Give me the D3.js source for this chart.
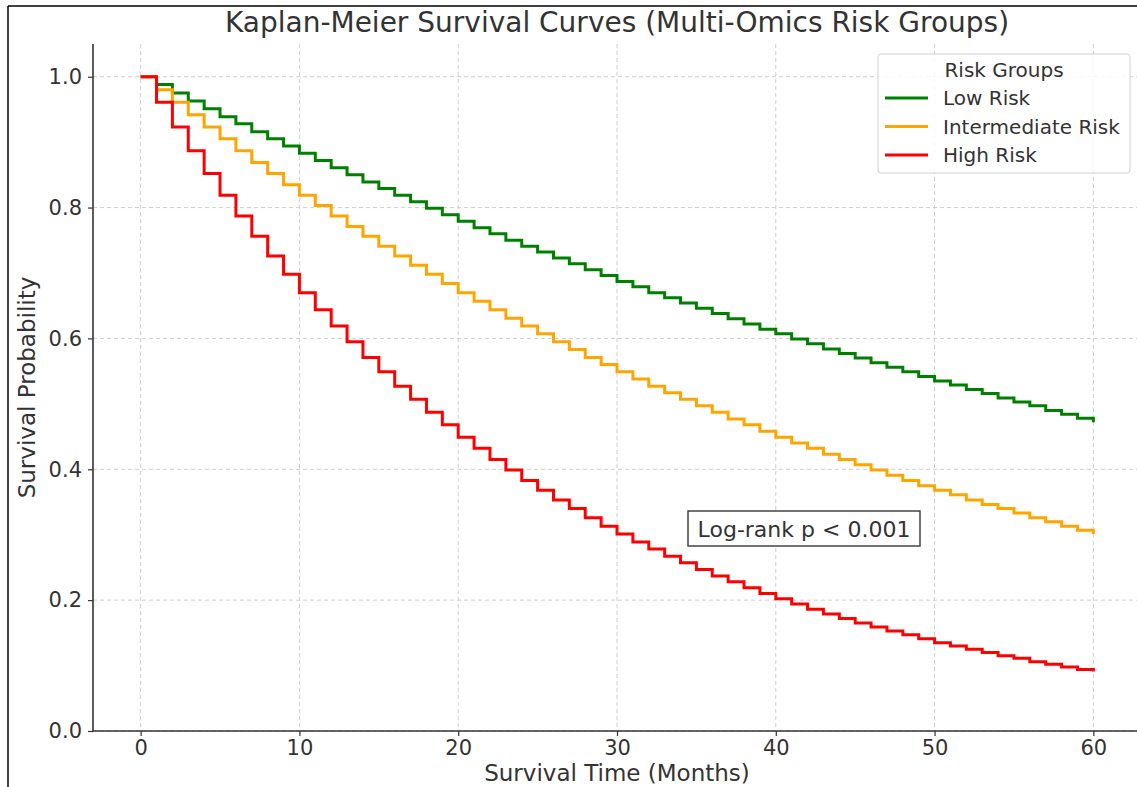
<!DOCTYPE html>
<html>
<head>
<meta charset="utf-8">
<script src="https://cdn.jsdelivr.net/npm/d3@7"></script>
<style>
  body { margin: 0; background: #fff; }
  svg { display: block; font-family: "DejaVu Sans", sans-serif; }
</style>
</head>
<body>
<svg id="chart" width="1137" height="787"></svg>
<script>
// months 0..60
var months = d3.range(0, 61);

var groups = ["Low Risk", "Intermediate Risk", "High Risk"];
var groupColors = ["green", "orange", "red"];

var lowRisk = [1.000, 0.988, 0.975, 0.963, 0.951, 0.939, 0.928, 0.916, 0.905, 0.894,
  0.883, 0.872, 0.861, 0.850, 0.839, 0.829, 0.819, 0.809, 0.799, 0.789,
  0.779, 0.769, 0.760, 0.750, 0.741, 0.732, 0.723, 0.714, 0.705, 0.696,
  0.687, 0.679, 0.670, 0.662, 0.654, 0.646, 0.638, 0.630, 0.622, 0.614,
  0.607, 0.599, 0.592, 0.584, 0.577, 0.570, 0.563, 0.556, 0.549, 0.542,
  0.535, 0.529, 0.522, 0.516, 0.509, 0.503, 0.497, 0.490, 0.484, 0.478,
  0.472];

var intermediateRisk = [1.000, 0.980, 0.961, 0.942, 0.923, 0.905, 0.887, 0.869, 0.852, 0.835,
  0.819, 0.803, 0.787, 0.771, 0.756, 0.741, 0.726, 0.712, 0.698, 0.684,
  0.670, 0.657, 0.644, 0.631, 0.619, 0.607, 0.595, 0.583, 0.571, 0.560,
  0.549, 0.538, 0.527, 0.517, 0.507, 0.497, 0.487, 0.477, 0.468, 0.458,
  0.449, 0.440, 0.432, 0.423, 0.415, 0.407, 0.399, 0.391, 0.383, 0.375,
  0.368, 0.361, 0.353, 0.346, 0.340, 0.333, 0.326, 0.320, 0.313, 0.307,
  0.301];

var highRisk = [1.000, 0.961, 0.923, 0.887, 0.852, 0.819, 0.787, 0.756, 0.726, 0.698,
  0.670, 0.644, 0.619, 0.595, 0.571, 0.549, 0.527, 0.507, 0.487, 0.468,
  0.449, 0.432, 0.415, 0.399, 0.383, 0.368, 0.353, 0.340, 0.326, 0.313,
  0.301, 0.289, 0.278, 0.267, 0.257, 0.247, 0.237, 0.228, 0.219, 0.210,
  0.202, 0.194, 0.186, 0.179, 0.172, 0.165, 0.159, 0.153, 0.147, 0.141,
  0.135, 0.130, 0.125, 0.120, 0.115, 0.111, 0.106, 0.102, 0.098, 0.094,
  0.091];

var xTicks = [0, 10, 20, 30, 40, 50, 60];
var yTicks = [0.0, 0.2, 0.4, 0.6, 0.8, 1.0];

var seriesValues = [lowRisk, intermediateRisk, highRisk];

var svg = d3.select("#chart");

// plot area (right side runs past the picture edge, as in the original)
var plotLeft = 93, plotRight = 1141, plotTop = 44, plotBottom = 731;

var x = d3.scaleLinear().domain([-3, 63]).range([plotLeft, plotRight]);
var y = d3.scaleLinear().domain([0, 1.05]).range([plotBottom, plotTop]);

var textColor = "#333";

// outer frame (left and top edges visible)
svg.append("line").attr("x1", 8).attr("x2", 8).attr("y1", 6).attr("y2", 787)
  .attr("stroke", "#000").attr("stroke-width", 1.5);
svg.append("line").attr("x1", 8).attr("x2", 1137).attr("y1", 6).attr("y2", 6)
  .attr("stroke", "#000").attr("stroke-width", 1.5);

// grid
svg.append("g").selectAll("line")
  .data(xTicks).enter().append("line")
  .attr("x1", function(d) { return x(d); })
  .attr("x2", function(d) { return x(d); })
  .attr("y1", plotTop).attr("y2", plotBottom)
  .attr("stroke", "#cfcfcf").attr("stroke-width", 1)
  .attr("stroke-dasharray", "4,3");

svg.append("g").selectAll("line")
  .data(yTicks).enter().append("line")
  .attr("x1", plotLeft).attr("x2", plotRight)
  .attr("y1", function(d) { return y(d); })
  .attr("y2", function(d) { return y(d); })
  .attr("stroke", "#cfcfcf").attr("stroke-width", 1)
  .attr("stroke-dasharray", "4,3");

// curves
var line = d3.line()
  .x(function(d) { return x(d[0]); })
  .y(function(d) { return y(d[1]); })
  .curve(d3.curveStepAfter);

for (var i = 0; i < groups.length; ++i) {
  var pts = months.map(function(m, j) { return [m, seriesValues[i][j]]; });
  svg.append("path")
    .datum(pts)
    .attr("d", line)
    .attr("fill", "none")
    .attr("stroke", groupColors[i])
    .attr("stroke-width", 3);
}

// axes
var xAxis = svg.append("g")
  .attr("transform", "translate(0," + plotBottom + ")")
  .call(d3.axisBottom(x).tickValues(xTicks).tickSize(5).tickPadding(4).tickSizeOuter(0));
var yAxis = svg.append("g")
  .attr("transform", "translate(" + plotLeft + ",0)")
  .call(d3.axisLeft(y).tickValues(yTicks).tickFormat(d3.format(".1f")).tickSize(5).tickPadding(6).tickSizeOuter(0));

[xAxis, yAxis].forEach(function(a) {
  a.select(".domain").attr("stroke", textColor).attr("stroke-width", 1.6);
  a.selectAll(".tick line").attr("stroke", textColor).attr("stroke-width", 1.2);
  a.selectAll(".tick text").attr("fill", textColor)
    .style("font-size", "21px").style("font-family", "DejaVu Sans");
});
yAxis.select(".domain").attr("d", "M0," + plotTop + "V" + plotBottom);
xAxis.select(".domain").attr("d", "M" + plotLeft + ",0H" + plotRight);

// labels
svg.append("text")
  .attr("x", (plotLeft + plotRight) / 2).attr("y", 32)
  .attr("text-anchor", "middle")
  .attr("fill", textColor)
  .style("font-size", "28px")
  .text("Kaplan-Meier Survival Curves (Multi-Omics Risk Groups)");

svg.append("text")
  .attr("x", (plotLeft + plotRight) / 2).attr("y", 781)
  .attr("text-anchor", "middle")
  .attr("fill", textColor)
  .style("font-size", "23px")
  .text("Survival Time (Months)");

svg.append("text")
  .attr("transform", "translate(35," + ((plotTop + plotBottom) / 2) + ") rotate(-90)")
  .attr("text-anchor", "middle")
  .attr("fill", textColor)
  .style("font-size", "23px")
  .text("Survival Probability");

// legend
var lg = svg.append("g").attr("transform", "translate(878,54)");
lg.append("rect")
  .attr("width", 252).attr("height", 119)
  .attr("rx", 3).attr("ry", 3)
  .attr("fill", "#fff").attr("fill-opacity", 0.85)
  .attr("stroke", "#d0d0d0").attr("stroke-width", 1);
lg.append("text")
  .attr("x", 126).attr("y", 23)
  .attr("text-anchor", "middle")
  .attr("fill", textColor)
  .style("font-size", "20px")
  .text("Risk Groups");

var entries = lg.selectAll(".entry")
  .data(groups).enter().append("g")
  .attr("class", "entry")
  .attr("transform", function(d, i) { return "translate(0," + (44 + i * 28.5) + ")"; });
entries.append("line")
  .attr("x1", 7).attr("x2", 50)
  .attr("stroke", function(d, i) { return groupColors[i]; })
  .attr("stroke-width", 3);
entries.append("text")
  .attr("x", 65).attr("dy", "0.35em")
  .attr("fill", textColor)
  .style("font-size", "20px")
  .text(function(d) { return d; });

// log-rank annotation
var ann = svg.append("g").attr("transform", "translate(688,511)");
ann.append("rect")
  .attr("width", 232).attr("height", 35)
  .attr("fill", "#fff")
  .attr("stroke", "#444").attr("stroke-width", 1.5);
ann.append("text")
  .attr("x", 116).attr("y", 18).attr("dy", "0.35em")
  .attr("text-anchor", "middle")
  .attr("fill", textColor)
  .style("font-size", "22px")
  .text("Log-rank p < 0.001");
</script>
</body>
</html>
